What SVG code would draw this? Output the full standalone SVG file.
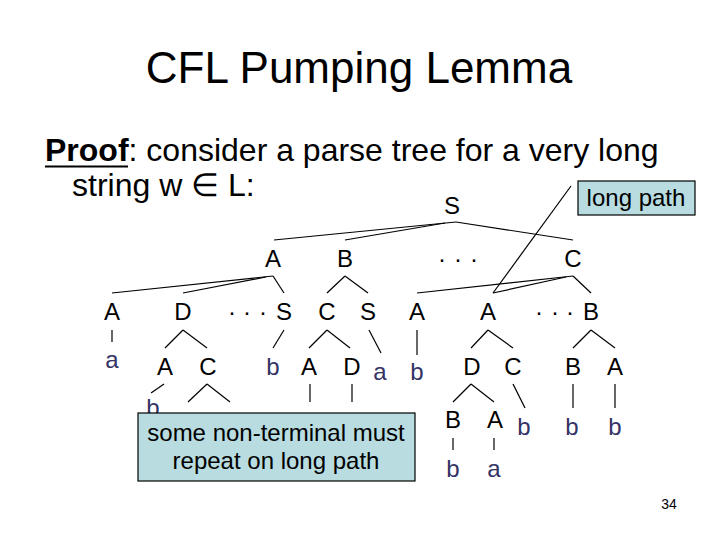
<svg xmlns="http://www.w3.org/2000/svg" width="720" height="540" viewBox="0 0 720 540">
<style>
text{font-family:"Liberation Sans",Arial,sans-serif}
.t{font-size:44px;fill:#000}
.b{font-size:32px;fill:#000}
.n{font-size:24px;fill:#000;text-anchor:middle}
.m{font-size:24px;fill:#333366;text-anchor:middle}
.c line{stroke:#000;stroke-width:1.2}
.box{fill:#b9dce1;stroke:#000;stroke-width:1.2}
</style>
<rect width="720" height="540" fill="#fff"/>
<text class="t" x="359" y="83" text-anchor="middle">CFL Pumping Lemma</text>
<text class="b" x="45" y="161"><tspan font-weight="bold">Proof</tspan>: consider a parse tree for a very long</text>
<line x1="45" y1="166.5" x2="128" y2="166.5" stroke="#000" stroke-width="2"/>
<text class="b" x="72" y="196">string w ∈ L:</text>

<g class="c" id="connectors">
<line x1="456" y1="222" x2="274" y2="240"/>
<line x1="445" y1="223" x2="345" y2="240"/>
<line x1="456" y1="222" x2="573" y2="240"/>
<line x1="571" y1="186" x2="493" y2="293"/>
<line x1="273" y1="276" x2="112" y2="293"/>
<line x1="266" y1="277" x2="183" y2="293"/>
<line x1="273" y1="276" x2="284" y2="293"/>
<line x1="345" y1="276" x2="327" y2="293"/>
<line x1="345" y1="276" x2="368" y2="293"/>
<line x1="573" y1="276" x2="417" y2="293"/>
<line x1="566" y1="277" x2="493" y2="293"/>
<line x1="573" y1="276" x2="591" y2="293"/>
<line x1="112" y1="330" x2="112" y2="342"/>
<line x1="183" y1="330" x2="165" y2="348"/>
<line x1="183" y1="330" x2="207" y2="348"/>
<line x1="284" y1="330" x2="273" y2="348"/>
<line x1="327" y1="330" x2="309" y2="348"/>
<line x1="327" y1="330" x2="350" y2="348"/>
<line x1="369" y1="330" x2="381" y2="353"/>
<line x1="417" y1="330" x2="417" y2="355"/>
<line x1="488" y1="330" x2="471" y2="348"/>
<line x1="488" y1="330" x2="513" y2="348"/>
<line x1="591" y1="330" x2="573" y2="348"/>
<line x1="591" y1="330" x2="615" y2="348"/>
<line x1="164" y1="384" x2="151" y2="393"/>
<line x1="207" y1="384" x2="188" y2="402"/>
<line x1="207" y1="384" x2="230" y2="402"/>
<line x1="310" y1="384" x2="310" y2="402"/>
<line x1="352" y1="384" x2="352" y2="402"/>
<line x1="471" y1="384" x2="453" y2="402"/>
<line x1="471" y1="384" x2="494" y2="402"/>
<line x1="513" y1="384" x2="525" y2="408"/>
<line x1="573" y1="384" x2="573" y2="408"/>
<line x1="615" y1="384" x2="615" y2="408"/>
<line x1="453" y1="438" x2="453" y2="450"/>
<line x1="494" y1="438" x2="494" y2="450"/>
</g>

<g id="S0"><text class="n" x="452" y="214">S</text></g>
<g id="A1"><text class="n" x="273" y="267">A</text></g>
<g id="B1"><text class="n" x="345" y="267">B</text></g>
<g id="dots1"><text class="n" x="442 458 474" y="267">···</text></g>
<g id="C1"><text class="n" x="573" y="267">C</text></g>

<g id="A2a"><text class="n" x="112" y="320">A</text></g>
<g id="D2"><text class="n" x="183" y="320">D</text></g>
<g id="dots2"><text class="n" x="232 247 263" y="320">···</text></g>
<g id="S2a"><text class="n" x="284" y="320">S</text></g>
<g id="C2"><text class="n" x="327" y="320">C</text></g>
<g id="S2b"><text class="n" x="368" y="320">S</text></g>
<g id="A2b"><text class="n" x="417" y="320">A</text></g>
<g id="A2c"><text class="n" x="488" y="320">A</text></g>
<g id="dots3"><text class="n" x="539 555 570" y="320">···</text></g>
<g id="B2"><text class="n" x="591" y="320">B</text></g>

<g id="a3a"><text class="m" x="112" y="368">a</text></g>
<g id="A3a"><text class="n" x="165" y="375">A</text></g>
<g id="C3a"><text class="n" x="208" y="375">C</text></g>
<g id="b3a"><text class="m" x="273" y="375">b</text></g>
<g id="A3b"><text class="n" x="309" y="375">A</text></g>
<g id="D3"><text class="n" x="352" y="375">D</text></g>
<g id="a3b"><text class="m" x="380" y="380">a</text></g>
<g id="b3b"><text class="m" x="417" y="380">b</text></g>
<g id="D3b"><text class="n" x="472" y="375">D</text></g>
<g id="C3b"><text class="n" x="513" y="375">C</text></g>
<g id="B3"><text class="n" x="573" y="375">B</text></g>
<g id="A3c"><text class="n" x="615" y="375">A</text></g>

<g id="b4a"><text class="m" x="153" y="416">b</text></g>
<g id="B4"><text class="n" x="453" y="428">B</text></g>
<g id="A4"><text class="n" x="495" y="428">A</text></g>
<g id="b4d"><text class="m" x="524" y="435">b</text></g>
<g id="b4e"><text class="m" x="572" y="435">b</text></g>
<g id="b4f"><text class="m" x="615" y="435">b</text></g>
<g id="b5"><text class="m" x="453" y="477">b</text></g>
<g id="a5"><text class="m" x="494" y="477">a</text></g>

<g id="note1">
<rect class="box" x="138" y="413" width="277" height="68"/>
<text class="n" x="276" y="441">some non-terminal must</text>
<text class="n" x="276" y="469">repeat on long path</text>
</g>
<g id="note2">
<rect class="box" x="578" y="181" width="117" height="34"/>
<text class="n" x="636" y="206">long path</text>
</g>
<text x="669" y="509" font-size="14" text-anchor="middle" fill="#000">34</text>
</svg>
